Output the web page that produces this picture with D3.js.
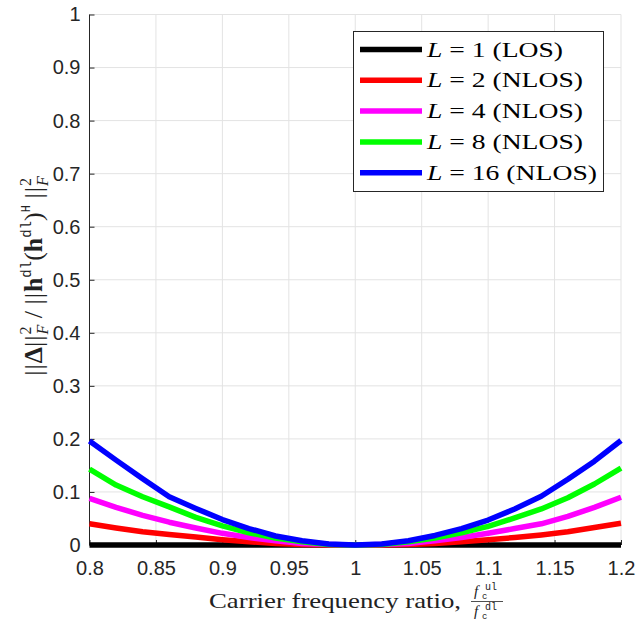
<!DOCTYPE html>
<html>
<head>
<meta charset="utf-8">
<script src="https://cdn.jsdelivr.net/npm/d3@7"></script>
<style>
  html, body { margin: 0; padding: 0; background: #fff; }
  svg { display: block; }
</style>
</head>
<body>
<svg id="chart" width="636" height="622"></svg>
<script>
// Carrier frequency ratio samples
const ratios = [0.80, 0.82, 0.84, 0.86, 0.88, 0.90, 0.92, 0.94, 0.96, 0.98, 1.00,
                1.02, 1.04, 1.06, 1.08, 1.10, 1.12, 1.14, 1.16, 1.18, 1.20];

// Normalised error per number of paths L
const errL1  = [0, 0, 0, 0, 0, 0, 0, 0, 0, 0, 0, 0, 0, 0, 0, 0, 0, 0, 0, 0, 0];
const errL2  = [0.040, 0.032, 0.025, 0.020, 0.015, 0.010, 0.006, 0.003, 0.001, 0.000, 0.000,
                0.000, 0.001, 0.003, 0.006, 0.010, 0.014, 0.019, 0.025, 0.033, 0.041];
const errL4  = [0.088, 0.071, 0.056, 0.043, 0.032, 0.022, 0.014, 0.008, 0.003, 0.001, 0.000,
                0.001, 0.003, 0.008, 0.014, 0.022, 0.031, 0.040, 0.054, 0.071, 0.090];
const errL8  = [0.143, 0.113, 0.091, 0.072, 0.052, 0.036, 0.023, 0.013, 0.006, 0.001, 0.000,
                0.001, 0.006, 0.013, 0.023, 0.035, 0.051, 0.068, 0.089, 0.115, 0.145];
const errL16 = [0.196, 0.160, 0.125, 0.091, 0.069, 0.048, 0.031, 0.017, 0.008, 0.002, 0.000,
                0.002, 0.008, 0.018, 0.031, 0.047, 0.068, 0.092, 0.124, 0.158, 0.197];

const seriesL      = ["1", "2", "4", "8", "16"];
const seriesKind   = ["LOS", "NLOS", "NLOS", "NLOS", "NLOS"];
const seriesValues = [errL1, errL2, errL4, errL8, errL16];
const seriesColors = ["#000000", "#ff0000", "#ff00ff", "#00ff00", "#0000ff"];

const xTicks = [0.8, 0.85, 0.9, 0.95, 1, 1.05, 1.1, 1.15, 1.2];
const xTickLabels = ["0.8", "0.85", "0.9", "0.95", "1", "1.05", "1.1", "1.15", "1.2"];
const yTicks = [0, 0.1, 0.2, 0.3, 0.4, 0.5, 0.6, 0.7, 0.8, 0.9, 1];
const yTickLabels = ["0", "0.1", "0.2", "0.3", "0.4", "0.5", "0.6", "0.7", "0.8", "0.9", "1"];

const svg = d3.select("#chart");
const margin = { left: 89.5, right: 15, top: 14.5, bottom: 77 };
const W = 636, H = 622;
const x = d3.scaleLinear().domain([0.8, 1.2]).range([margin.left, W - margin.right]);
const y = d3.scaleLinear().domain([0, 1]).range([H - margin.bottom, margin.top]);

const axisColor = "#262626";
const gridColor = "#e3e3e3";
const tickFont = "'Liberation Sans', Arial, Helvetica, sans-serif";
const serif = "'Liberation Serif', 'Times New Roman', serif";
const mono = "'Liberation Mono', 'DejaVu Sans Mono', monospace";

// Grid
const grid = svg.append("g");
grid.selectAll("line.gx").data(xTicks).join("line")
  .attr("x1", d => x(d)).attr("x2", d => x(d))
  .attr("y1", y(0)).attr("y2", y(1))
  .attr("stroke", gridColor).attr("stroke-width", 1);
grid.selectAll("line.gy").data(yTicks).join("line")
  .attr("x1", x(0.8)).attr("x2", x(1.2))
  .attr("y1", d => y(d)).attr("y2", d => y(d))
  .attr("stroke", gridColor).attr("stroke-width", 1);

// Axes (ticks pointing inward)
const xAxis = d3.axisBottom(x).tickValues(xTicks)
  .tickFormat((d, i) => xTickLabels[i]).tickSize(-5).tickPadding(16);
const yAxis = d3.axisLeft(y).tickValues(yTicks)
  .tickFormat((d, i) => yTickLabels[i]).tickSize(-5).tickPadding(9);

const gx = svg.append("g").attr("transform", `translate(0,${y(0)})`).call(xAxis);
const gy = svg.append("g").attr("transform", `translate(${x(0.8)},0)`).call(yAxis);
[gx, gy].forEach(g => {
  g.select(".domain").attr("stroke", axisColor).attr("stroke-width", 1);
  g.selectAll(".tick line").attr("stroke", axisColor);
  g.selectAll(".tick text").attr("fill", axisColor)
    .style("font-family", tickFont).style("font-size", "20px");
});
gx.select(".domain").attr("d", `M${x(0.8)},0H${x(1.2)}`);
gy.select(".domain").attr("d", `M0,${y(0)}V${y(1)}`);

// Curves
const line = d3.line().x((d, i) => x(ratios[i])).y(d => y(d));
svg.append("g").selectAll("path").data(seriesValues).join("path")
  .attr("d", d => line(d))
  .attr("fill", "none")
  .attr("stroke", (d, i) => seriesColors[i])
  .attr("stroke-width", 5.5)
  .attr("stroke-linejoin", "round");

// Legend
const legend = svg.append("g");
legend.append("rect")
  .attr("x", 353.5).attr("y", 31.5).attr("width", 250).attr("height", 160)
  .attr("fill", "#fff").attr("stroke", axisColor).attr("stroke-width", 1);
const legLen = [136, 156, 156, 156, 170];
seriesL.forEach((L, i) => {
  const yy = 49.5 + i * 30.8;
  legend.append("line")
    .attr("x1", 360).attr("x2", 422).attr("y1", yy).attr("y2", yy)
    .attr("stroke", seriesColors[i]).attr("stroke-width", 5.5);
  const t = legend.append("text")
    .attr("x", 427).attr("y", yy + 7)
    .attr("textLength", legLen[i]).attr("lengthAdjust", "spacingAndGlyphs")
    .style("font-family", serif).style("font-size", "21px").attr("fill", "#000");
  t.append("tspan").style("font-style", "italic").text("L");
  t.append("tspan").text(` = ${L} (${seriesKind[i]})`).attr("xml:space", "preserve");
});

// X label
const xl = svg.append("g").attr("fill", "#222");
xl.append("text")
  .attr("x", 209).attr("y", 608)
  .attr("textLength", 252).attr("lengthAdjust", "spacingAndGlyphs")
  .style("font-family", serif).style("font-size", "21px")
  .text("Carrier frequency ratio,");
// stacked fraction f_c^ul / f_c^dl
function fracPart(yb, sup) {
  xl.append("text").attr("x", 474).attr("y", yb)
    .style("font-family", serif).style("font-size", "15px").style("font-style", "italic")
    .text("f");
  xl.append("text").attr("x", 485).attr("y", yb - 6)
    .style("font-family", mono).style("font-size", "10px").text(sup);
  xl.append("text").attr("x", 482).attr("y", yb + 3)
    .style("font-family", mono).style("font-size", "9px").text("c");
}
fracPart(596, "ul");
xl.append("line").attr("x1", 471).attr("x2", 503).attr("y1", 601.5).attr("y2", 601.5)
  .attr("stroke", "#222").attr("stroke-width", 0.8);
fracPart(616, "dl");

// Y label
const yl = svg.append("text")
  .attr("transform", "translate(42,276) rotate(-90)")
  .attr("text-anchor", "middle")
  .style("font-family", serif).style("font-size", "26px").attr("fill", "#222");
const bars = (sel) => sel.append("tspan").attr("letter-spacing", "1px").text("||");
bars(yl);
yl.append("tspan").style("font-weight", "bold").text("\u0394");
bars(yl);
yl.append("tspan").attr("dy", -11).style("font-size", "16px").text("2");
yl.append("tspan").attr("dx", -8).attr("dy", 17).style("font-size", "16px").style("font-style", "italic").text("F");
yl.append("tspan").attr("dy", -6).attr("xml:space", "preserve").text(" / ");
bars(yl);
yl.append("tspan").style("font-weight", "bold").text("h");
yl.append("tspan").attr("dy", -11).style("font-family", mono).style("font-size", "14px").text("dl");
yl.append("tspan").attr("dy", 11).text("(");
yl.append("tspan").style("font-weight", "bold").text("h");
yl.append("tspan").attr("dy", -11).style("font-family", mono).style("font-size", "14px").text("dl");
yl.append("tspan").attr("dy", 11).text(")");
yl.append("tspan").attr("dy", -12).style("font-family", mono).style("font-size", "12px").text("H");
yl.append("tspan").attr("dy", 12).text(" ");
bars(yl);
yl.append("tspan").attr("dy", -11).style("font-size", "16px").text("2");
yl.append("tspan").attr("dx", -8).attr("dy", 17).style("font-size", "16px").style("font-style", "italic").text("F");
</script>
</body>
</html>
